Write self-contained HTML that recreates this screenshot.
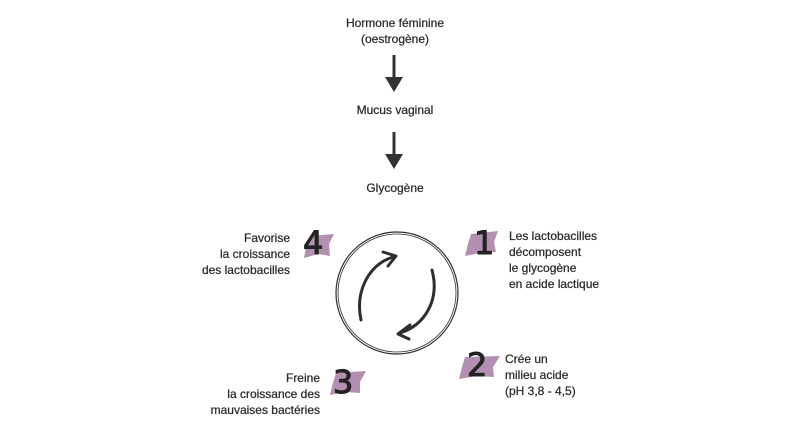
<!DOCTYPE html>
<html><head><meta charset="utf-8"><style>
body{margin:0;width:791px;height:431px;background:#fff;overflow:hidden;position:relative;font-family:"Liberation Sans",sans-serif;color:#2b2b2b;font-size:12px;}
.t{position:absolute;line-height:16px;white-space:nowrap;-webkit-text-stroke:0.25px #2b2b2b}
.c{text-align:center}.r{text-align:right}
.n{position:absolute;font-size:32px;line-height:31px;color:#222;font-family:"DejaVu Sans","Liberation Sans",sans-serif;-webkit-text-stroke:1px #222}
svg{position:absolute;left:0;top:0}
</style></head><body>
<svg width="791" height="431">
<g fill="#b38fb1">
<polygon points="310,236 334,234 329,244 330,256 318,254 304,258 306,247"/>
<polygon points="471,234 498,231 494,242 496,252 480,253 465,256 468,244"/>
<polygon points="465,357 500,356 493,367 494,377 477,376 459,379 462,367"/>
<polygon points="336,373 366,371 360,382 360,393 345,392 330,395 333,383"/>
</g>
<g stroke="#2e2e2e" fill="none">
<circle cx="397" cy="293" r="61" stroke-width="1.2"/>
<circle cx="397" cy="293" r="59" stroke-width="0.8"/>
<path d="M361,320 C355,292 368,265 393,257" stroke-width="3" stroke-linecap="round"/>
<path d="M383,252 L396,256 L388,266" stroke-width="3" stroke-linecap="round" stroke-linejoin="round"/>
<path d="M432,270 C440,300 425,325 400,333" stroke-width="3" stroke-linecap="round"/>
<path d="M410,325 L398,334 L409,339" stroke-width="3" stroke-linecap="round" stroke-linejoin="round"/>
</g>
<g fill="#333" stroke="#333">
<line x1="394" y1="55" x2="394" y2="80" stroke-width="3"/>
<polygon points="385,77 403,77 394,92" stroke="none"/>
<line x1="394" y1="132" x2="394" y2="157" stroke-width="3"/>
<polygon points="385,154 403,154 394,169" stroke="none"/>
</g>
</svg>
<div class="t c" style="left:300px;top:15px;width:190px">Hormone féminine<br>(oestrogène)</div>
<div class="t c" style="left:300px;top:102px;width:190px">Mucus vaginal</div>
<div class="t c" style="left:300px;top:180px;width:190px">Glycogène</div>
<div class="t r" style="left:150px;top:230px;width:140px">Favorise<br>la croissance<br>des lactobacilles</div>
<div class="t" style="left:509px;top:228px">Les lactobacilles<br>décomposent<br>le glycogène<br>en acide lactique</div>
<div class="t" style="left:505px;top:351px">Crée un<br>milieu acide<br>(pH 3,8 - 4,5)</div>
<div class="t r" style="left:180px;top:370px;width:140px">Freine<br>la croissance des<br>mauvaises bactéries</div>
<div class="n" style="left:303px;top:228px">4</div>
<div class="n" style="left:474px;top:228px">1</div>
<div class="n" style="left:467px;top:350px">2</div>
<div class="n" style="left:333px;top:367px">3</div>
</body></html>
